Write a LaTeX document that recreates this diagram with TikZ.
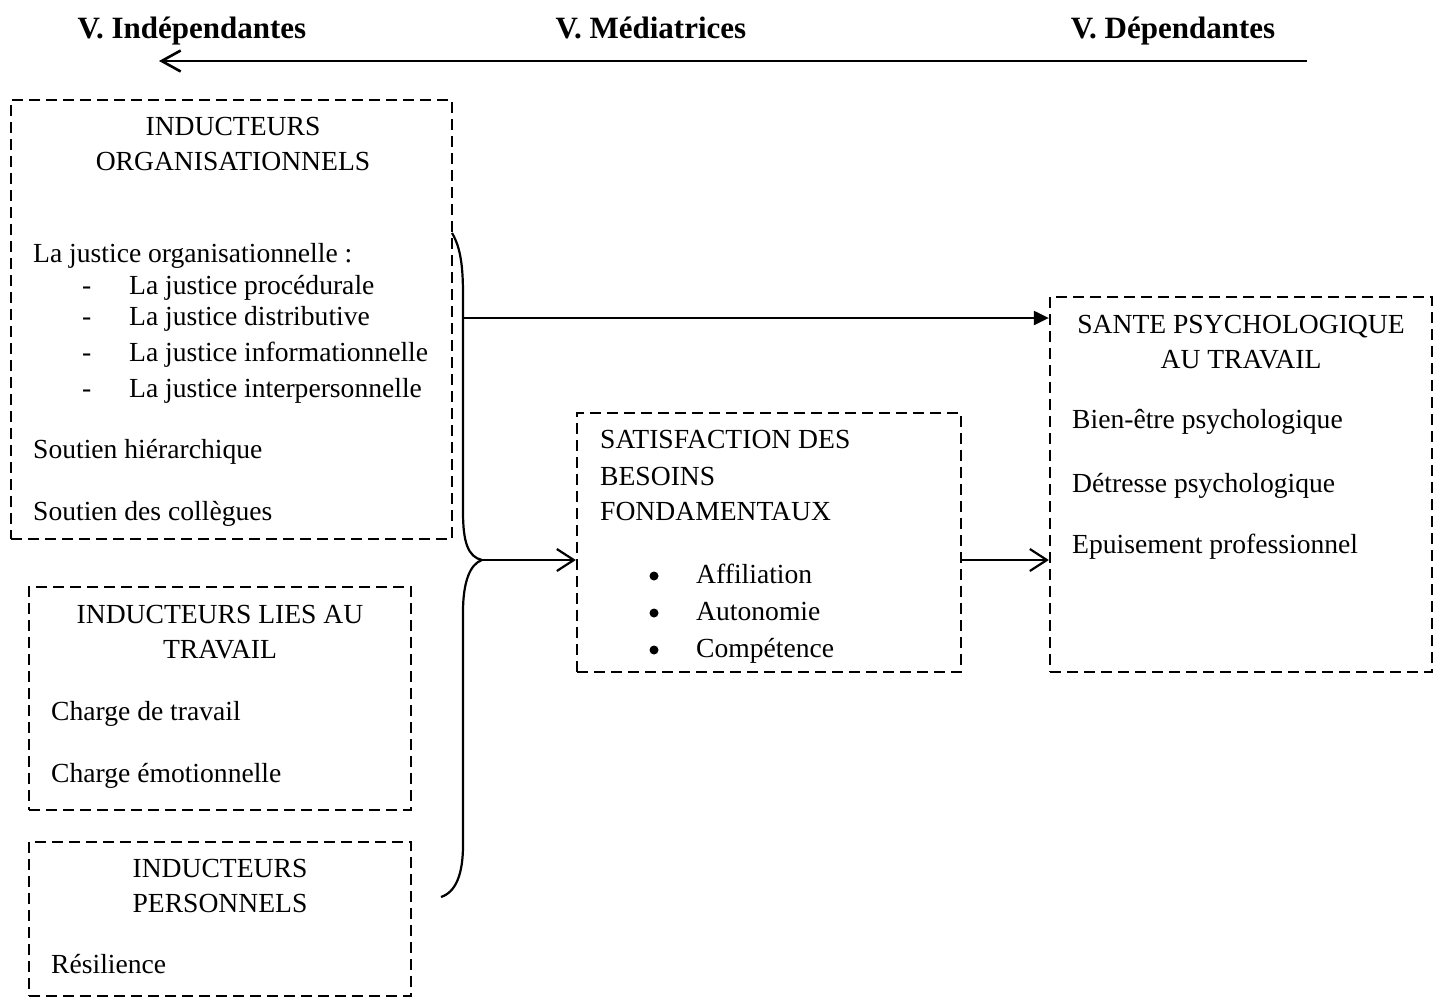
\documentclass[tikz,border=0pt]{standalone}
\usepackage{fontspec}
\setmainfont{Liberation Serif}
\usetikzlibrary{arrows.meta}

\begin{document}
\begin{tikzpicture}[
    x=1pt, y=-1pt,
    font=\fontsize{27.6pt}{33pt}\selectfont,
    boite/.style={rectangle, draw=black, line width=2.3pt, dash pattern=on 11pt off 6pt, inner sep=0pt},
    texte/.style={inner sep=0pt, anchor=base west},
    titre/.style={inner sep=0pt, anchor=base},
    entete/.style={inner sep=0pt, anchor=base, font=\fontsize{31pt}{36pt}\selectfont\bfseries},
    puce/.style={circle, fill=black, inner sep=0pt, minimum size=9pt},
    trait/.style={line width=2.2pt},
    ouverte/.style={trait, -{Straight Barb[length=17pt, width=22pt]}},
    pleine/.style={trait, -{Triangle[length=15pt, width=14pt]}}
]
    \useasboundingbox (0,0) rectangle (1433,999);

    \node[entete] at (192,38) (vi) {V. Indépendantes};
    \node[entete] at (651,38) (vm) {V. Médiatrices};
    \node[entete] at (1173,38) (vd) {V. Dépendantes};
    \coordinate (droite) at (1307,61);
    \coordinate (gauche) at (159,61);
    \draw[line width=2.6pt, -{Straight Barb[length=19pt, width=21pt]}] (droite) -- (gauche);

    \node[boite, minimum width=441pt, minimum height=439pt] at (231.5,319.5) (orga) {};
    \node[titre] at (233,135) (o1) {INDUCTEURS};
    \node[titre] at (233,170) (o2) {ORGANISATIONNELS};
    \node[texte] at (33,262) (o3) {La justice organisationnelle :};
    \node[texte] at (82,294) (o4) {\makebox[47pt][l]{-}La justice procédurale};
    \node[texte] at (82,325) (o5) {\makebox[47pt][l]{-}La justice distributive};
    \node[texte] at (82,361) (o6) {\makebox[47pt][l]{-}La justice informationnelle};
    \node[texte] at (82,397) (o7) {\makebox[47pt][l]{-}La justice interpersonnelle};
    \node[texte] at (33,458) (o8) {Soutien hiérarchique};
    \node[texte] at (33,520) (o9) {Soutien des collègues};

    \node[boite, minimum width=382pt, minimum height=223pt] at (220,698.5) (travail) {};
    \node[titre] at (220,623) (t1) {INDUCTEURS LIES AU};
    \node[titre] at (220,658) (t2) {TRAVAIL};
    \node[texte] at (51,720) (t3) {Charge de travail};
    \node[texte] at (51,782) (t4) {Charge émotionnelle};

    \node[boite, minimum width=382pt, minimum height=154pt] at (220,919) (perso) {};
    \node[titre] at (220,877) (p1) {INDUCTEURS};
    \node[titre] at (220,912) (p2) {PERSONNELS};
    \node[texte] at (51,973) (p3) {Résilience};

    \node[boite, minimum width=384pt, minimum height=259pt] at (769,542.5) (satis) {};
    \node[texte] at (600,448) (s1) {SATISFACTION DES};
    \node[texte] at (600,485) (s2) {BESOINS};
    \node[texte] at (600,520) (s3) {FONDAMENTAUX};
    \node[puce] at (654,576) (b1) {};
    \node[puce] at (654,613) (b2) {};
    \node[puce] at (654,650) (b3) {};
    \node[texte] at (696,583) (s4) {Affiliation};
    \node[texte] at (696,620) (s5) {Autonomie};
    \node[texte] at (696,657) (s6) {Compétence};

    \node[boite, minimum width=382pt, minimum height=375pt] at (1241,484.5) (sante) {};
    \node[titre] at (1241,333) (d1) {SANTE PSYCHOLOGIQUE};
    \node[titre] at (1241,368) (d2) {AU TRAVAIL};
    \node[texte] at (1072,428) (d3) {Bien-être psychologique};
    \node[texte] at (1072,492) (d4) {Détresse psychologique};
    \node[texte] at (1072,553) (d5) {Epuisement professionnel};

    \coordinate (haut) at (452,233);
    \coordinate (pointe) at (482,560);
    \coordinate (bas) at (441,897);
    \coordinate (depart) at (463,318);
    \draw[trait] (haut) .. controls (461,248) and (463,268) .. (463,295) -- (463,512)
        .. controls (463,542) and (468,557) .. (pointe)
        .. controls (470,564) and (463,582) .. (463,612) -- (463,845)
        .. controls (463,874) and (456,892) .. (bas);

    \draw[pleine] (depart) -- (depart -| sante.west);
    \draw[ouverte] (pointe) -- (pointe -| satis.west);
    \draw[ouverte] (pointe -| satis.east) -- (pointe -| sante.west);
\end{tikzpicture}
\end{document}
